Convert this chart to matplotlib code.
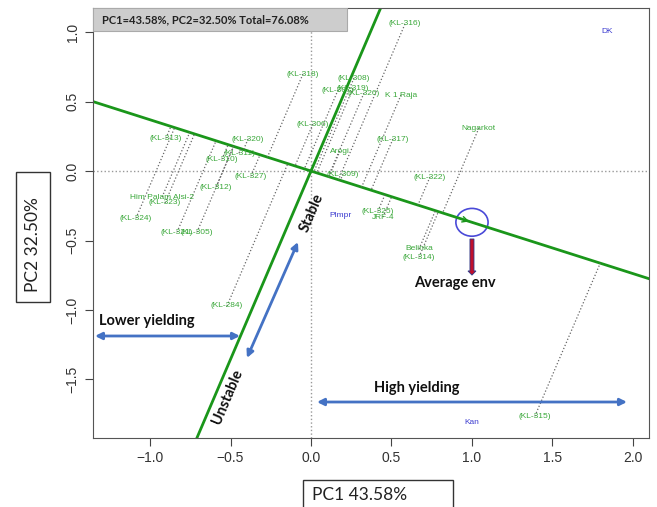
import numpy as np
import matplotlib
matplotlib.use("Agg")
import matplotlib.pyplot as plt
from matplotlib.patches import Rectangle, Ellipse, FancyArrow

plt.rcParams['font.family'] = ['Liberation Sans', 'DejaVu Sans']

# genotypes (green) - biplot coordinates
gen_names = ["(KL-316)", "(KL-318)", "(KL-308)", "(KL-307)", "(KL-319)", "(KL-326)",
             "K 1 Raja", "(KL-306)", "(KL-313)", "(KL-320)", "(KL-311)", "(KL-310)",
             "Arogi", "(KL-309)", "(KL-327)", "(KL-312)", "Him Palam Alsi-2", "(KL-323)",
             "(KL-324)", "(KL-321)", "(KL-305)", "(KL-317)", "Nagarkot", "(KL-322)",
             "(KL-325)", "JRF-4", "Belinka", "(KL-314)", "(KL-315)", "(KL-284)"]
gen_x = [0.584, -0.050, 0.267, 0.168, 0.261, 0.329,
         0.559, 0.012, -0.901, -0.391, -0.447, -0.553,
         0.180, 0.199, -0.373, -0.590, -0.925, -0.907,
         -1.087, -0.832, -0.708, 0.509, 1.043, 0.739,
         0.416, 0.447, 0.671, 0.671, 1.391, -0.522]
gen_y = [1.058, 0.698, 0.669, 0.583, 0.597, 0.561,
         0.547, 0.338, 0.237, 0.230, 0.129, 0.086,
         0.144, -0.022, -0.036, -0.115, -0.187, -0.230,
         -0.338, -0.439, -0.439, 0.230, 0.309, -0.043,
         -0.288, -0.331, -0.561, -0.619, -1.763, -0.971]

# environments (blue)
env_names = ["DK", "Plmpr", "Kan"]
env_x = [1.839, 0.186, 1.000]
env_y = [1.007, -0.317, -1.813]

# average environment
avg_env = (1.0, -0.369)

xlim = (-1.354, 2.10)
ylim = (-1.921, 1.173)

green = '#1a961a'
blue_arrow = '#4472c4'

fig = plt.figure(figsize=(6.57, 5.07), dpi=100)
ax = fig.add_axes([0.1416, 0.1361, 0.8463, 0.8481])
ax.set_xlim(xlim)
ax.set_ylim(ylim)

# reference lines
ax.axhline(0, color='#999999', ls=':', lw=1)
ax.axvline(0, color='#999999', ls=':', lw=1)

# AEA and ATC lines through the origin
slope = avg_env[1] / avg_env[0]
xs = np.array(xlim)
ax.plot(xs, slope * xs, color=green, lw=2)
ax.plot(xs, -1 / slope * xs, color=green, lw=2)

# projections of genotypes onto AEA
d = np.array(avg_env) / np.hypot(*avg_env)
for x, y in zip(gen_x, gen_y):
    t = x * d[0] + y * d[1]
    ax.plot([x, t * d[0]], [y, t * d[1]], color='#666666', ls=':', lw=0.9)

for n, x, y in zip(gen_names, gen_x, gen_y):
    ax.text(x, y, n, color='#3aa83a', fontsize=6, ha='center', va='center')
for n, x, y in zip(env_names, env_x, env_y):
    ax.text(x, y, n, color='#3c3cd0', fontsize=6, ha='center', va='center')

# average environment marker
ax.annotate('', xy=avg_env, xytext=(avg_env[0] - 0.08, avg_env[1] - 0.08 * slope),
            arrowprops=dict(arrowstyle='->', color=green, lw=1))
ax.add_patch(Ellipse(avg_env, 0.2, 0.2, fill=False, ec='#4a4ad8', lw=1.2))
ax.add_patch(FancyArrow(1.0, -0.489, 0, -0.26, width=0.025, head_width=0.05,
                        head_length=0.03, fc='#c0102c', ec='#2a3a8a', lw=0.6,
                        length_includes_head=True))

bold = dict(family=['Lato', 'DejaVu Sans'], fontweight='bold', fontsize=10.5, color='#111111')
ax.text(0.894, -0.806, "Average env", ha='center', va='center', **bold)
ax.text(-1.317, -1.079, "Lower yielding", ha='left', va='center', **bold)
ax.text(0.658, -1.561, "High yielding", ha='center', va='center', **bold)
ax.text(0.006, -0.30, "Stable", ha='center', va='center', rotation=67, **bold)
ax.text(-0.516, -1.626, "Unstable", ha='center', va='center', rotation=67, **bold)

arr = dict(arrowstyle='<|-|>', color=blue_arrow, lw=2, mutation_scale=10, shrinkA=0, shrinkB=0)
ax.annotate('', xy=(-1.342, -1.187), xytext=(-0.441, -1.187), arrowprops=arr)
ax.annotate('', xy=(0.037, -1.662), xytext=(1.963, -1.662), arrowprops=arr)
ax.annotate('', xy=(-0.081, -0.511), xytext=(-0.398, -1.345), arrowprops=arr)

# title box
ax.add_patch(Rectangle((0, 0.9465), 0.457, 0.0535, transform=ax.transAxes,
                       fc='#cdcdcd', ec='#aaaaaa', lw=0.8, zorder=3))
ax.text(0.016, 0.973, "PC1=43.58%, PC2=32.50% Total=76.08%", transform=ax.transAxes,
        fontsize=8, fontweight='bold', family=['Lato', 'DejaVu Sans'], color='#222222',
        ha='left', va='center', zorder=4)

ax.set_xticks([-1.0, -0.5, 0.0, 0.5, 1.0, 1.5, 2.0])
ax.set_yticks([-1.5, -1.0, -0.5, 0.0, 0.5, 1.0])
ax.tick_params(labelsize=10, length=6, color='#444444', labelcolor='#333333', direction='out')
for lab in ax.get_yticklabels():
    lab.set_rotation(90)
    lab.set_va('center')
for s in ax.spines.values():
    s.set_color('#555555')
ax.xaxis.set_major_formatter(matplotlib.ticker.FuncFormatter(lambda v, p: f"{v:.1f}".replace('-', '\u2212')))
ax.yaxis.set_major_formatter(matplotlib.ticker.FuncFormatter(lambda v, p: f"{v:.1f}".replace('-', '\u2212')))

# axis label boxes
fig.patches.append(Rectangle((16 / 657, 1 - 302 / 507), 34 / 657, 130 / 507, transform=fig.transFigure,
                             fc='white', ec='#333333', lw=1))
fig.text(33 / 657, 1 - 245 / 507, "PC2 32.50%", rotation=90, ha='center', va='center',
         fontsize=12.5, family=['Lato', 'DejaVu Sans'], color='#222222')
fig.patches.append(Rectangle((303 / 657, -0.05), 150 / 657, 0.05 + 27 / 507, transform=fig.transFigure,
                             fc='white', ec='#333333', lw=1))
fig.text(312 / 657, 1 - 495 / 507, "PC1 43.58%", ha='left', va='center',
         fontsize=12.5, family=['Lato', 'DejaVu Sans'], color='#222222')

fig.savefig("out.png", dpi=100)
